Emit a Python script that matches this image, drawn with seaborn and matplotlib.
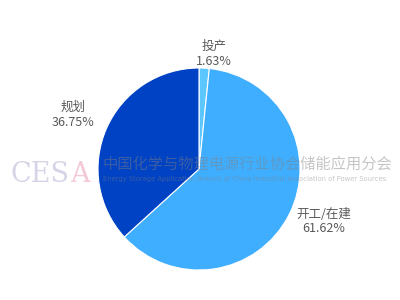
import matplotlib
matplotlib.use("Agg")
import matplotlib.pyplot as plt
import seaborn as sns
import numpy as np

categories = ["投产", "开工/在建", "规划"]
values = [1.63, 61.62, 36.75]
colors = ["#5CC6FF", "#40AEFF", "#0042C4"]
label_dist = [1.15, 1.34, 1.36]
label_ang_shift = [-4.5, 3.9, 0.6]

sns.set_style("white")
plt.rcParams['font.family'] = ['Noto Sans CJK SC', 'DejaVu Sans']

fig = plt.figure(figsize=(4, 3), dpi=100)
ax = fig.add_axes([0, 0, 1, 1])

cx, cy, r = 199, 131, 101
wedges, _ = ax.pie(values, colors=colors, startangle=90, counterclock=False,
                   center=(cx, cy), radius=r, frame=True,
                   wedgeprops=dict(edgecolor='white', linewidth=0.8))
ax.set_xlim(0, 400)
ax.set_ylim(0, 300)
ax.set_aspect('equal')
ax.axis('off')

for w, cat, val, d, s in zip(wedges, categories, values, label_dist, label_ang_shift):
    ang = np.deg2rad((w.theta1 + w.theta2) / 2 + s)
    x = cx + d * r * np.cos(ang)
    y = cy + d * r * np.sin(ang)
    ax.text(x, y, f"{cat}\n{val:.2f}%", ha='center', va='center',
            fontsize=9, color='#595959', linespacing=1.15)

# watermark
ax.text(10, 126, "CES", fontsize=19.5, family='DejaVu Serif', color='#C8C8E0',
        alpha=0.75, ha='left', va='center')
ax.text(70, 126, "A", fontsize=19.5, family='DejaVu Serif', color='#F0B8CC',
        alpha=0.75, ha='left', va='center')
ax.text(103, 136, "中国化学与物理电源行业协会储能应用分会", fontsize=11,
        color='#808080', alpha=0.45, ha='left', va='center')
ax.text(103, 121, "Energy Storage Application Branch of China Industrial Association of Power Sources",
        fontsize=4.9, color='#808080', alpha=0.45, ha='left', va='center',
        family='DejaVu Sans')

fig.savefig("out.png", dpi=100)
